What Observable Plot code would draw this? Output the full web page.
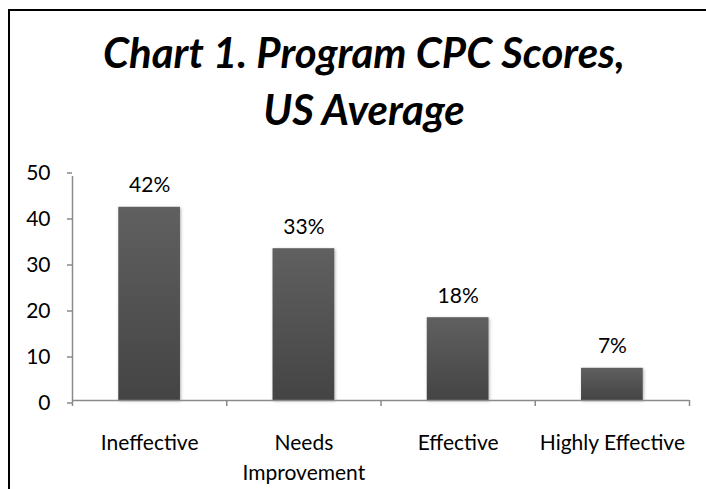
<!DOCTYPE html>
<html>
<head>
<meta charset="utf-8">
<script src="https://cdn.jsdelivr.net/npm/d3@7"></script>
<script src="https://cdn.jsdelivr.net/npm/@observablehq/plot@0.6"></script>
<style>
  html, body { margin: 0; padding: 0; background: #fff; }
  #wrap { position: relative; width: 706px; height: 489px; overflow: hidden; background: #fff; }
  #frame { position: absolute; left: 8px; top: 9px; width: 800px; height: 600px;
           border-left: 2px solid #000; border-top: 2px solid #000; box-sizing: border-box; }
  #title { display: block; }
  #chart svg { display: block; }
</style>
</head>
<body>
<div id="wrap">
  <div id="frame"></div>
  <svg id="title" width="706" height="150"></svg>
  <div id="chart"></div>
</div>
<script>
const titleLines = ["Chart 1. Program CPC Scores,", "US Average"];
const categories = ["Ineffective", "Needs\nImprovement", "Effective", "Highly Effective"];
const values = [42, 33, 18, 7];
const valueLabels = ["42%", "33%", "18%", "7%"];
const yTicks = [0, 10, 20, 30, 40, 50];

const data = categories.map((c, i) => ({cat: c, idx: i, value: values[i], label: valueLabels[i]}));

const font = "Lato";
const axisColor = "#8a8a8a";

// Title (fit first line to the reference width)
const ctx = document.createElement("canvas").getContext("2d");
ctx.font = `italic bold 100px ${font}`;
const w1 = ctx.measureText(titleLines[0]).width;
const titleSize = 100 * 522 / w1;
const tsvg = d3.select("#title");
tsvg.selectAll("text").data(titleLines).join("text")
  .attr("x", 364)
  .attr("y", (d, i) => 68 + i * 57)
  .attr("text-anchor", "middle")
  .attr("font-family", font)
  .attr("font-style", "italic")
  .attr("font-weight", "bold")
  .attr("font-size", titleSize)
  .attr("fill", "#000")
  .text(d => d);

const chart = Plot.plot({
  width: 706,
  height: 339,
  marginLeft: 72,
  marginRight: 17,
  marginTop: 20,
  marginBottom: 89,
  x: {domain: [0, categories.length], axis: null},
  y: {domain: [0, 50], axis: null},
  style: {fontFamily: font, fontSize: "21px", color: "#000", background: "transparent", overflow: "visible"},
  marks: [
    Plot.rectY(data, {x1: d => d.idx + 0.3, x2: d => d.idx + 0.7, y: "value", fill: "url(#barGrad)", className: "bars"}),
    Plot.ruleY([0], {x1: 0, x2: categories.length, stroke: axisColor, strokeWidth: 1.5}),
    Plot.ruleX([0], {y1: 0, y2: 50, insetBottom: -6, stroke: axisColor, strokeWidth: 1.5}),
    Plot.axisY({ticks: yTicks, tickSize: 5, tickPadding: 17, stroke: axisColor, strokeWidth: 1.5, dy: 2.5, label: null, tickFormat: d => String(d), fontSize: 21}),
    Plot.axisX({ticks: d3.range(categories.length + 1), tickSize: 6, stroke: axisColor, strokeWidth: 1.5, label: null, tickFormat: () => ""}),
    Plot.axisX({ticks: categories.map((c, i) => i + 0.5), tickSize: 0, tickPadding: 28, lineHeight: 30 / 21, fontSize: 21, label: null,
                tickFormat: t => categories[Math.round(t - 0.5)]}),
    Plot.text(data, {x: d => d.idx + 0.5, y: "value", text: "label", lineAnchor: "top", dy: -30, fontSize: 21, fill: "#000"})
  ]
});

const svg = d3.select(chart);
const defs = svg.insert("defs", ":first-child");
const grad = defs.append("linearGradient").attr("id", "barGrad").attr("x1", 0).attr("y1", 0).attr("x2", 0).attr("y2", 1);
grad.append("stop").attr("offset", "0%").attr("stop-color", "#606060");
grad.append("stop").attr("offset", "100%").attr("stop-color", "#444444");
svg.selectAll(".bars").style("filter", "drop-shadow(1.5px 1px 1.5px rgba(0,0,0,0.3))");

document.getElementById("chart").appendChild(chart);
</script>
</body>
</html>
